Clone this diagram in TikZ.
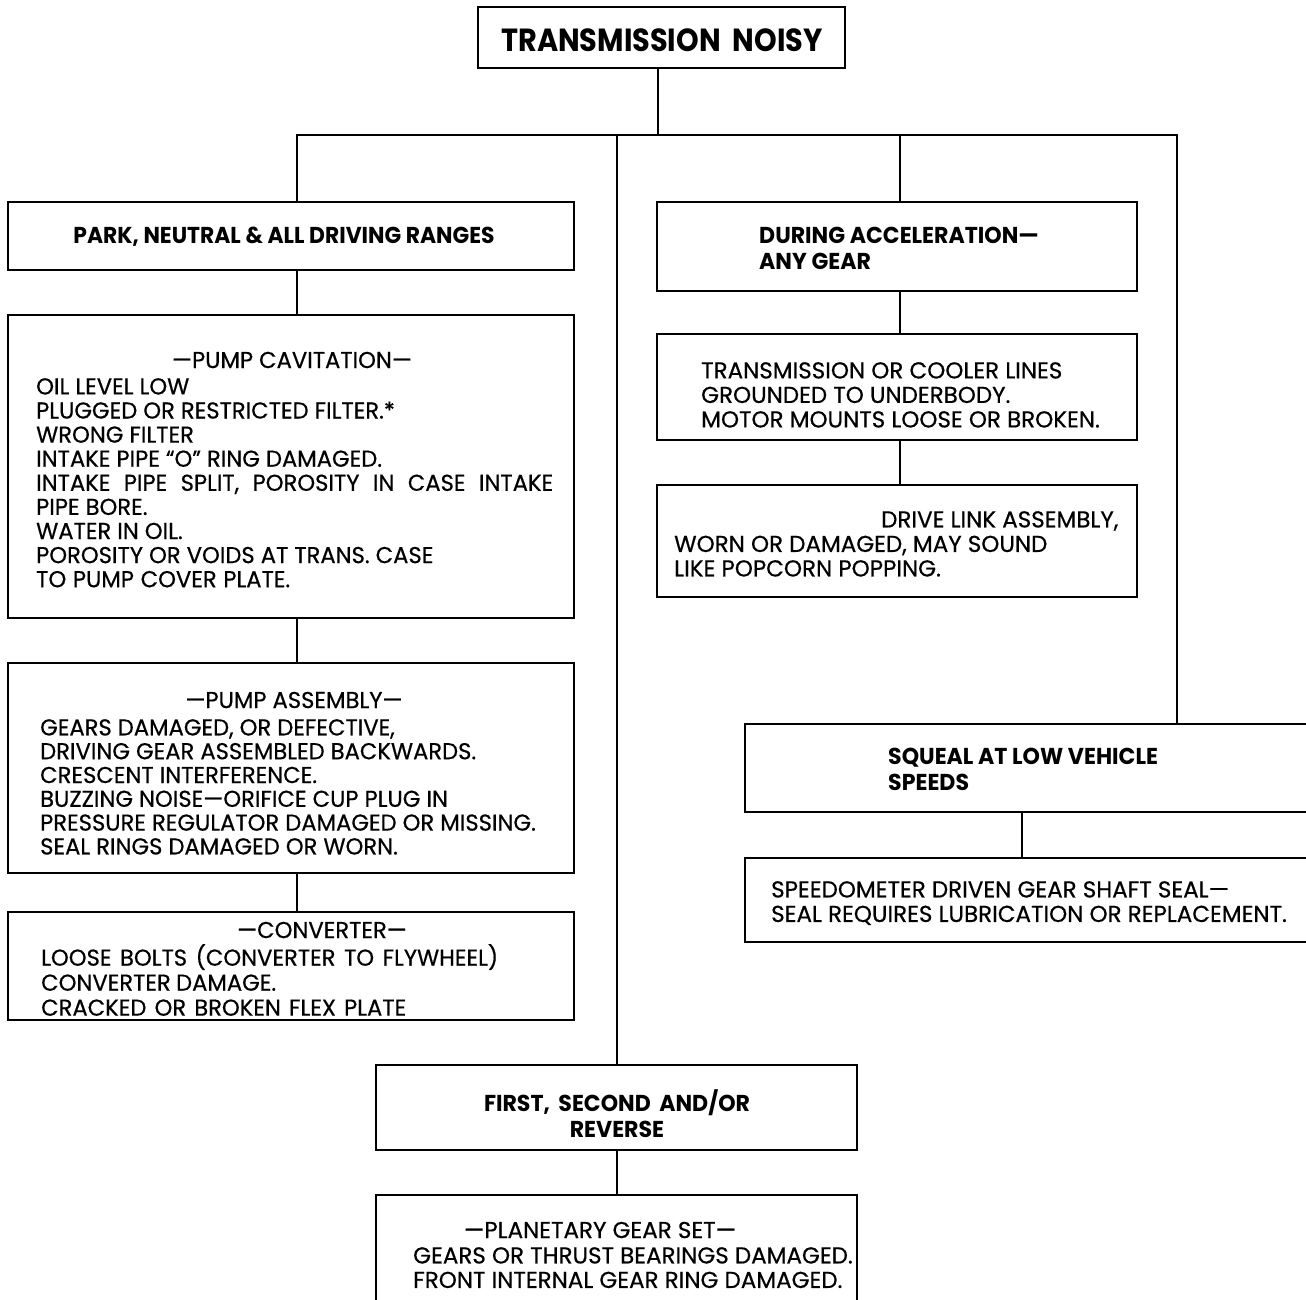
\documentclass[tikz,border=0pt]{standalone}
\usepackage{fontspec}
\setmainfont{Poppins}
\newfontfamily\bodyL[FakeStretch=0.985,FakeBold=0.5]{Poppins}
\newfontfamily\bodyR[FakeStretch=1.0,FakeBold=0.5]{Poppins}
\newfontfamily\headf[FakeStretch=0.96]{Poppins}
\newfontfamily\headp[FakeStretch=0.95]{Poppins}
\newfontfamily\headt[FakeStretch=0.90]{Poppins}
\tikzset{
  box/.style={draw, line width=1.6pt, rectangle, inner sep=0pt},
  conn/.style={line width=1.6pt},
  txtL/.style={inner sep=0pt, align=left, anchor=north west, font=\bodyL\fontsize{23}{24.1}\selectfont},
  txtR/.style={inner sep=0pt, align=left, anchor=north west, font=\bodyR\fontsize{23}{24.5}\selectfont},
  ttlL/.style={inner sep=0pt, font=\bodyL\fontsize{23}{24}\selectfont},
  ttlR/.style={inner sep=0pt, font=\bodyR\fontsize{23}{24}\selectfont},
  hd/.style={inner sep=0pt, align=left, anchor=north west, font=\headf\bfseries\fontsize{23}{26}\selectfont},
}
\begin{document}
\begin{tikzpicture}[x=1pt,y=-1pt]
\path[use as bounding box] (0,0) rectangle (1306,1300);
\clip (0,0) rectangle (1306,1300);
\fill[white] (0,0) rectangle (1306,1300);

% boxes
\node[box, minimum width=367pt, minimum height=61pt] (top) at (661.5,37.5) {};
\node[box, minimum width=566pt, minimum height=68pt] (park) at (291,236) {};
\node[box, minimum width=566pt, minimum height=303pt] (pumpcav) at (291,466.5) {};
\node[box, minimum width=566pt, minimum height=210pt] (pumpasm) at (291,768) {};
\node[box, minimum width=566pt, minimum height=108pt] (conv) at (291,966) {};
\node[box, minimum width=480pt, minimum height=89pt] (during) at (897,246.5) {};
\node[box, minimum width=480pt, minimum height=106pt] (trans) at (897,387) {};
\node[box, minimum width=480pt, minimum height=112pt] (drive) at (897,541) {};
\node[box, minimum width=575pt, minimum height=88pt] (squeal) at (1032.5,768) {};
\node[box, minimum width=575pt, minimum height=84pt] (speedo) at (1032.5,900) {};
\node[box, minimum width=481pt, minimum height=85pt] (first) at (616.5,1107.5) {};
\node[box, minimum width=481pt, minimum height=120pt] (planet) at (616.5,1255) {};

% junctions
\coordinate (j0) at (658,135);
\coordinate (jL) at (297,135);
\coordinate (jM) at (617,135);
\coordinate (jD) at (900,135);
\coordinate (jR) at (1177,135);
\coordinate (jS) at (1022,0);

% connectors
\draw[conn] (top.south -| j0) -- (j0);
\draw[conn] (jL |- park.north) -- (jL) -- (jR) -- (jR |- squeal.north);
\draw[conn] (jM) -- (jM |- first.north);
\draw[conn] (jD) -- (jD |- during.north);
\draw[conn] (park.south -| jL) -- (jL |- pumpcav.north);
\draw[conn] (pumpcav.south -| jL) -- (jL |- pumpasm.north);
\draw[conn] (pumpasm.south -| jL) -- (jL |- conv.north);
\draw[conn] (during.south -| jD) -- (jD |- trans.north);
\draw[conn] (trans.south -| jD) -- (jD |- drive.north);
\draw[conn] (squeal.south -| jS) -- (jS |- speedo.north);
\draw[conn] (first.south -| jM) -- (jM |- planet.north);

% headings
\node[inner sep=0pt, font=\headt\bfseries\fontsize{32}{33}\selectfont] (t0) at (662,40) {TRANSMISSION\ \ NOISY};
\node[inner sep=0pt, font=\headp\bfseries\fontsize{23}{26}\selectfont] (t1) at (284,237) {PARK, NEUTRAL \& ALL DRIVING RANGES};
\node[hd] (t2) at (759,227) {DURING ACCELERATION—\\ANY GEAR};
\node[hd] (t3) at (888,748) {SQUEAL AT LOW VEHICLE\\SPEEDS};
\node[hd, align=center, anchor=north] (t4) at (617,1089) {\makebox[266pt][s]{FIRST, SECOND AND/OR}\\REVERSE};

% left column
\node[ttlL] (c0) at (292,360) {—PUMP CAVITATION—};
\node[txtL] (c1) at (36,378) {OIL LEVEL LOW\\
PLUGGED OR RESTRICTED FILTER.*\\
WRONG FILTER\\
INTAKE PIPE “O” RING DAMAGED.\\
\makebox[517pt][s]{INTAKE PIPE SPLIT, POROSITY IN CASE INTAKE}\\
PIPE BORE.\\
WATER IN OIL.\\
POROSITY OR VOIDS AT TRANS. CASE\\
\makebox[254pt][s]{TO PUMP COVER PLATE.}};

\node[ttlL] (a0) at (294,700) {—PUMP ASSEMBLY—};
\node[txtL, font=\bodyL\fontsize{23}{23.8}\selectfont] (a1) at (40,719) {GEARS DAMAGED, OR DEFECTIVE,\\
DRIVING GEAR ASSEMBLED BACKWARDS.\\
CRESCENT INTERFERENCE.\\
BUZZING NOISE—ORIFICE CUP PLUG IN\\
PRESSURE REGULATOR DAMAGED OR MISSING.\\
SEAL RINGS DAMAGED OR WORN.};

\node[ttlL] (v0) at (322,930) {—CONVERTER—};
\node[txtL, font=\bodyL\fontsize{23}{25}\selectfont] (v1) at (41,944) {\makebox[457pt][s]{LOOSE BOLTS (CONVERTER TO FLYWHEEL)}\\
\makebox[235pt][s]{CONVERTER DAMAGE.}\\
\makebox[365pt][s]{CRACKED OR BROKEN FLEX PLATE}};

% right column
\node[txtR] (r1) at (701,362) {TRANSMISSION OR COOLER LINES\\
GROUNDED TO UNDERBODY.\\
MOTOR MOUNTS LOOSE OR BROKEN.};
\node[txtR] (r2) at (674,511) {\hspace*{207pt}DRIVE LINK ASSEMBLY,\\
WORN OR DAMAGED, MAY SOUND\\
LIKE POPCORN POPPING.};
\node[txtR] (r3) at (771,881) {SPEEDOMETER DRIVEN GEAR SHAFT SEAL—\\
SEAL REQUIRES LUBRICATION OR REPLACEMENT.};

% bottom
\node[ttlR] (p0) at (600,1230) {—PLANETARY GEAR SET—};
\node[txtR] (p1) at (413,1247) {GEARS OR THRUST BEARINGS DAMAGED.\\
FRONT INTERNAL GEAR RING DAMAGED.};
\end{tikzpicture}
\end{document}
